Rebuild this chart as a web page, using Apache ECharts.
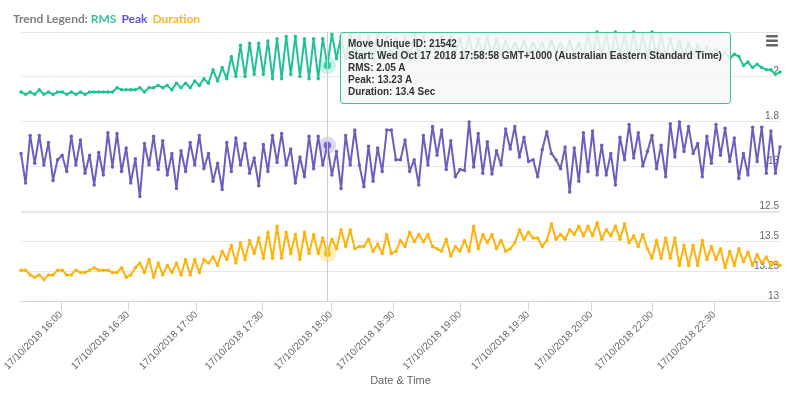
<!DOCTYPE html>
<html>
<head>
<meta charset="utf-8">
<script src="https://cdn.jsdelivr.net/npm/echarts@6/dist/echarts.min.js"></script>
<style>
html, body { margin: 0; padding: 0; background: #fff; }
#grafico { width: 800px; height: 396px; }
</style>
</head>
<body>
<div id="grafico"></div>
<script>
// one point per move, x axis is ordinal (index of the move)
const rms = [
  1.93, 1.92, 1.93, 1.92, 1.94, 1.92, 1.93, 1.92, 1.93, 1.93,
  1.92, 1.93, 1.92, 1.93, 1.92, 1.93, 1.93, 1.93, 1.93, 1.93,
  1.93, 1.95, 1.94, 1.94, 1.94, 1.94, 1.95, 1.93, 1.95, 1.95,
  1.96, 1.95, 1.96, 1.94, 1.97, 1.95, 1.97, 1.95, 1.98, 1.96,
  1.99, 1.97, 2.03, 1.98, 2.04, 1.99, 2.09, 2.00, 2.14, 2.00,
  2.15, 2.01, 2.15, 2.01, 2.16, 1.99, 2.17, 1.99, 2.18, 2.01,
  2.18, 2.00, 2.17, 1.99, 2.17, 1.99, 2.17, 2.05, 2.19, 2.08,
  2.18, 2.08, 2.19, 2.09, 2.18, 2.07, 2.18, 2.08, 2.19, 2.08,
  2.18, 2.09, 2.17, 2.08, 2.18, 2.07, 2.19, 2.09, 2.18, 2.08,
  2.17, 2.09, 2.18, 2.08, 2.18, 2.10, 2.17, 2.09, 2.18, 2.08,
  2.17, 2.10, 2.18, 2.09, 2.17, 2.10, 2.16, 2.11, 2.15, 2.11,
  2.16, 2.10, 2.15, 2.11, 2.15, 2.10, 2.16, 2.11, 2.15, 2.10,
  2.16, 2.10, 2.15, 2.09, 2.19, 2.08, 2.20, 2.09, 2.19, 2.08,
  2.20, 2.09, 2.19, 2.08, 2.20, 2.09, 2.19, 2.08, 2.20, 2.09,
  2.19, 2.09, 2.17, 2.09, 2.16, 2.09, 2.15, 2.09, 2.14, 2.09,
  2.13, 2.10, 2.12, 2.09, 2.11, 2.08, 2.10, 2.09, 2.05, 2.065,
  2.04, 2.055, 2.04, 2.03, 2.03, 2.01, 2.02
]
const peak = [
  13.14, 12.81, 13.34, 13.03, 13.34, 13.01, 13.26, 12.84, 13.07, 13.12,
  12.94, 13.33, 13.01, 13.29, 12.92, 13.12, 12.79, 13.15, 12.90, 13.37,
  12.99, 13.36, 12.94, 13.20, 12.81, 13.08, 12.66, 13.25, 13.01, 13.33,
  12.96, 13.28, 12.90, 13.14, 12.75, 13.17, 12.94, 13.26, 13.01, 13.34,
  12.97, 13.14, 12.83, 13.03, 12.74, 13.26, 12.94, 13.31, 13.01, 13.25,
  12.92, 13.09, 12.78, 13.24, 12.94, 13.34, 13.04, 13.36, 13.01, 13.19,
  12.81, 13.10, 12.88, 13.33, 12.97, 13.33, 13.01, 13.23, 12.90, 13.16,
  12.75, 13.34, 13.01, 13.40, 13.01, 12.77, 13.22, 12.83, 13.20, 12.94,
  13.40, 13.40, 13.07, 13.07, 13.29, 12.94, 13.07, 12.79, 13.34, 13.01,
  13.44, 13.12, 13.40, 12.96, 13.28, 12.88, 12.96, 12.95, 13.49, 12.99,
  13.36, 12.92, 13.27, 12.91, 13.17, 13.01, 13.41, 13.19, 13.44, 13.10,
  13.32, 13.05, 13.07, 12.88, 13.18, 13.38, 13.14, 13.07, 12.97, 13.21,
  12.71, 13.20, 12.83, 13.37, 12.94, 13.39, 12.90, 13.23, 12.90, 13.14,
  12.79, 13.32, 13.07, 13.46, 13.09, 13.37, 13.00, 13.16, 13.34, 12.97,
  13.23, 12.88, 13.47, 13.10, 13.49, 13.16, 13.44, 13.14, 13.25, 12.88,
  13.33, 13.03, 13.46, 13.12, 13.42, 13.05, 13.31, 12.86, 13.14, 12.90,
  13.43, 13.05, 13.43, 12.92, 13.39, 12.92, 13.21
]
const duration = [
  13.26, 13.26, 13.22, 13.20, 13.22, 13.18, 13.22, 13.22, 13.26, 13.26,
  13.22, 13.22, 13.26, 13.24, 13.24, 13.26, 13.28, 13.26, 13.26, 13.26,
  13.24, 13.24, 13.28, 13.20, 13.22, 13.28, 13.32, 13.24, 13.35, 13.20,
  13.32, 13.22, 13.30, 13.24, 13.32, 13.22, 13.35, 13.22, 13.35, 13.24,
  13.35, 13.32, 13.37, 13.30, 13.42, 13.35, 13.47, 13.32, 13.49, 13.35,
  13.51, 13.40, 13.53, 13.36, 13.58, 13.36, 13.63, 13.36, 13.58, 13.40,
  13.56, 13.35, 13.58, 13.40, 13.56, 13.40, 13.53, 13.40, 13.52, 13.44,
  13.60, 13.46, 13.60, 13.44, 13.46, 13.46, 13.52, 13.42, 13.48, 13.40,
  13.56, 13.40, 13.42, 13.51, 13.46, 13.58, 13.50, 13.56, 13.50, 13.56,
  13.46, 13.44, 13.42, 13.52, 13.38, 13.46, 13.42, 13.51, 13.42, 13.63,
  13.44, 13.56, 13.49, 13.56, 13.44, 13.51, 13.42, 13.44, 13.49, 13.60,
  13.52, 13.58, 13.53, 13.53, 13.46, 13.51, 13.65, 13.52, 13.56, 13.52,
  13.60, 13.56, 13.63, 13.55, 13.63, 13.55, 13.66, 13.52, 13.60, 13.55,
  13.63, 13.52, 13.65, 13.49, 13.55, 13.46, 13.56, 13.44, 13.36, 13.51,
  13.36, 13.53, 13.36, 13.53, 13.30, 13.47, 13.30, 13.47, 13.30, 13.51,
  13.35, 13.46, 13.35, 13.44, 13.28, 13.42, 13.30, 13.44, 13.33, 13.41,
  13.30, 13.39, 13.32, 13.37, 13.30, 13.33, 13.30
]
// tick positions on the ordinal axis and their labels
const tickPos = [8.75, 23.4, 38.3, 52.7, 67.8, 81.4, 96.0, 110.9, 124.7, 138.0, 151.6]
const tickLabels = [
  '17/10/2018 16:00', '17/10/2018 16:30', '17/10/2018 17:00', '17/10/2018 17:30',
  '17/10/2018 18:00', '17/10/2018 18:30', '17/10/2018 19:00', '17/10/2018 19:30',
  '17/10/2018 20:00', '17/10/2018 22:00', '17/10/2018 22:30'
]
const hoverIdx = 67
const moveId = 21542
const moveStart = 'Wed Oct 17 2018 17:58:58 GMT+1000 (Australian Eastern Standard Time)'

const font = '"Liberation Sans", Arial, sans-serif'
const colRms = '#22c194'
const colPeak = '#6b5ebd'
const colDur = '#ffb20c'

let myChart = echarts.init(document.getElementById('grafico'))

const pts = arr => arr.map((v, i) => [i, v])

function xAxisFor(i) {
  const bottom = i === 2
  return {
    type: 'value',
    gridIndex: i,
    min: 0,
    max: rms.length - 1,
    axisLine: { show: bottom, lineStyle: { color: '#ccd6eb' } },
    axisTick: {
      show: bottom,
      customValues: tickPos,
      length: 10,
      lineStyle: { color: '#ccd6eb' }
    },
    axisLabel: {
      show: bottom,
      customValues: tickPos,
      rotate: 45,
      margin: 12,
      fontSize: 10,
      color: '#666',
      fontFamily: font,
      formatter: val => {
        const k = tickPos.findIndex(p => Math.abs(p - val) < 1e-6)
        return k >= 0 ? tickLabels[k] : ''
      }
    },
    splitLine: { show: false },
    name: bottom ? 'Date & Time' : '',
    nameLocation: 'middle',
    nameGap: 74,
    nameTextStyle: { color: '#666', fontSize: 11, fontFamily: font }
  }
}

function yAxisFor(i, min, max, step) {
  return {
    type: 'value',
    gridIndex: i,
    position: 'right',
    min: min,
    max: max,
    interval: step,
    axisLine: { show: false },
    axisTick: { show: false },
    axisLabel: {
      inside: true,
      showMaxLabel: false,
      verticalAlign: 'bottom',
      margin: 1,
      fontSize: 10,
      color: '#666',
      fontFamily: font
    },
    splitLine: { lineStyle: { color: '#e6e6e6' } }
  }
}

function lineSeries(i, arr, color) {
  return {
    type: 'line',
    xAxisIndex: i,
    yAxisIndex: i,
    data: pts(arr),
    symbol: 'circle',
    symbolSize: 3.5,
    showSymbol: true,
    lineStyle: { width: 2, color: color },
    itemStyle: { color: color },
    emphasis: { disabled: true },
    z: 3
  }
}

function hoverSeries(i, arr, color) {
  return {
    type: 'scatter',
    xAxisIndex: i,
    yAxisIndex: i,
    silent: true,
    z: 4,
    data: [
      { value: [hoverIdx, arr[hoverIdx]], symbolSize: 16, itemStyle: { color: color, opacity: 0.25 } },
      { value: [hoverIdx, arr[hoverIdx]], symbolSize: 7, itemStyle: { color: color } }
    ]
  }
}

let option = {
  animation: false,
  title: {
    left: 13,
    top: 10,
    padding: 0,
    text: '{a|Trend Legend: }{b|RMS} {c|Peak} {d|Duration}',
    textStyle: {
      rich: {
        a: { color: '#808080', fontSize: 12, fontFamily: 'Lato' },
        b: { color: '#35c29b', fontSize: 12, fontWeight: 'bold', fontFamily: 'Lato' },
        c: { color: '#5b57d3', fontSize: 12, fontWeight: 'bold', fontFamily: 'Lato' },
        d: { color: '#fdb42a', fontSize: 12, fontWeight: 'bold', fontFamily: 'Lato' }
      }
    }
  },
  grid: [
    { left: 21, right: 20, top: 32, height: 89, containLabel: false, outerBoundsMode: 'none' },
    { left: 21, right: 20, top: 121, height: 90, containLabel: false, outerBoundsMode: 'none' },
    { left: 21, right: 20, top: 212, height: 89, containLabel: false, outerBoundsMode: 'none' }
  ],
  axisPointer: {
    link: [{ xAxisIndex: 'all' }],
    lineStyle: { color: '#cccccc', width: 1, type: 'solid' },
    label: { show: false }
  },
  tooltip: {
    trigger: 'axis',
    alwaysShowContent: true,
    transitionDuration: 0,
    position: [340, 32],
    backgroundColor: 'rgba(247,247,247,0.85)',
    borderColor: '#3dc3a0',
    borderWidth: 1,
    padding: [5, 8, 5, 7],
    textStyle: { color: '#333', fontSize: 10, fontWeight: 'bold', fontFamily: font, lineHeight: 12 },
    extraCssText: 'box-shadow:none;border-radius:3px;line-height:12px;',
    axisPointer: { type: 'line', animation: false, lineStyle: { color: '#cccccc', width: 1, type: 'solid' } },
    formatter: () => [
      'Move Unique ID: ' + moveId,
      'Start: ' + moveStart,
      'RMS: ' + rms[hoverIdx] + ' A',
      'Peak: ' + peak[hoverIdx] + ' A',
      'Duration: ' + duration[hoverIdx] + ' Sec'
    ].join('<br/>')
  },
  xAxis: [xAxisFor(0), xAxisFor(1), xAxisFor(2)],
  yAxis: [
    yAxisFor(0, 1.8, 2.2, 0.2),
    yAxisFor(1, 12.5, 13.5, 0.5),
    yAxisFor(2, 13, 13.75, 0.25)
  ],
  graphic: [
    {
      type: 'group',
      left: 766,
      top: 35,
      children: [
        { type: 'rect', shape: { x: 0, y: 0, width: 12, height: 2.4, r: 1 }, style: { fill: '#666' } },
        { type: 'rect', shape: { x: 0, y: 4.5, width: 12, height: 2.4, r: 1 }, style: { fill: '#666' } },
        { type: 'rect', shape: { x: 0, y: 9, width: 12, height: 2.4, r: 1 }, style: { fill: '#666' } }
      ]
    }
  ],
  series: [
    lineSeries(0, rms, colRms),
    lineSeries(1, peak, colPeak),
    lineSeries(2, duration, colDur),
    hoverSeries(0, rms, colRms),
    hoverSeries(1, peak, colPeak),
    hoverSeries(2, duration, colDur)
  ]
}

myChart.setOption(option)
myChart.dispatchAction({ type: 'showTip', seriesIndex: 0, dataIndex: hoverIdx })
</script>
</body>
</html>
